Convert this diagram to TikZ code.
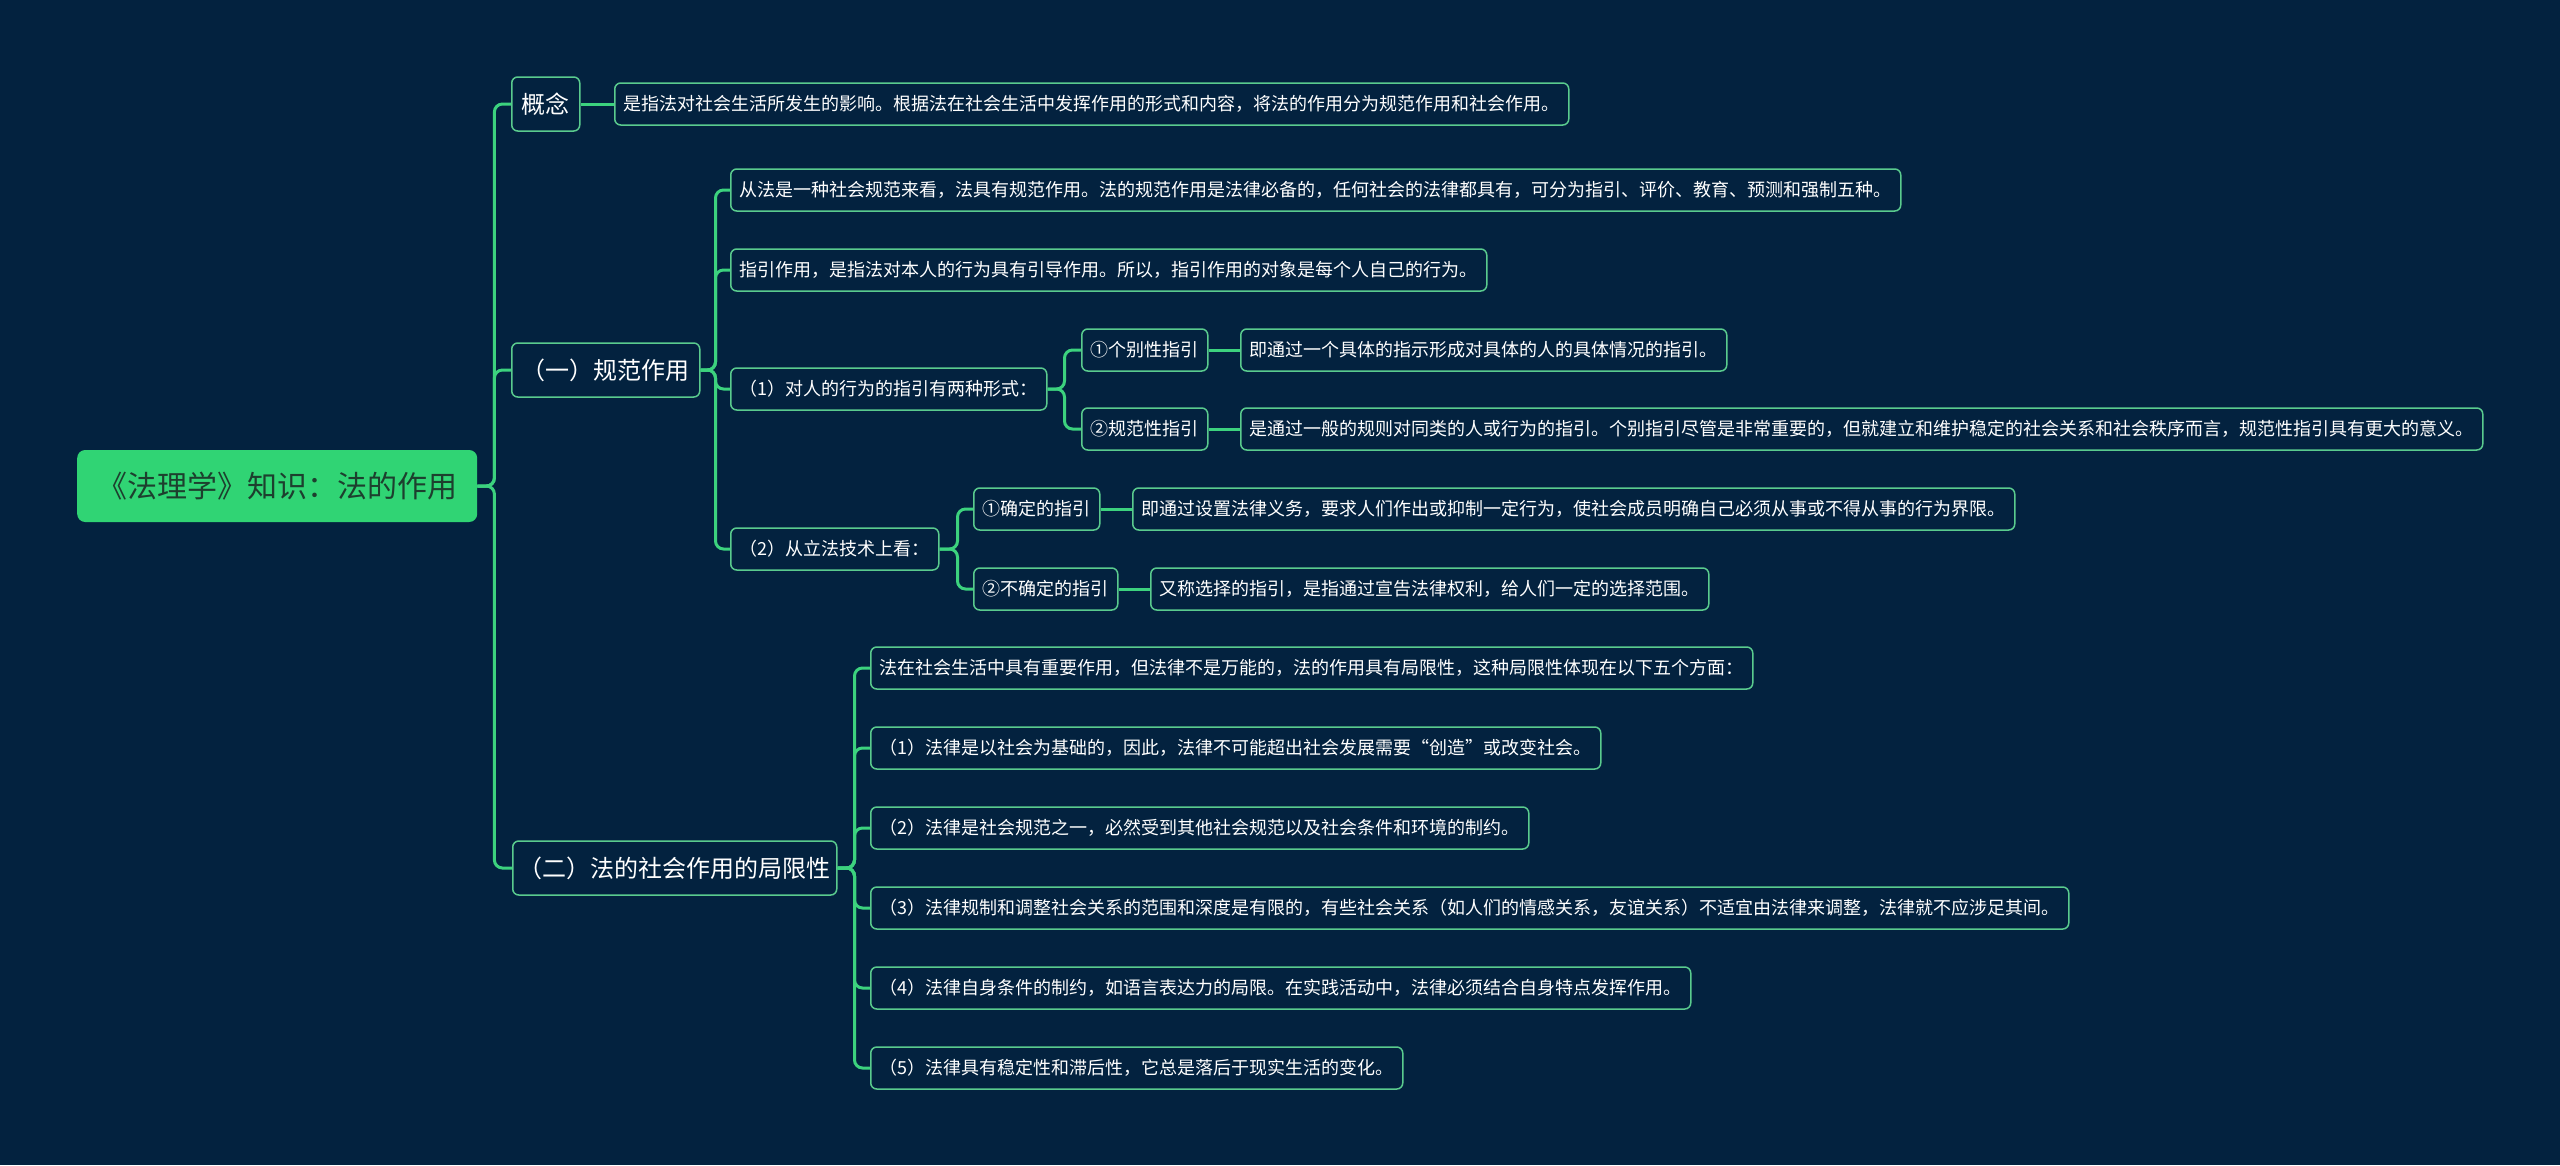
\documentclass[tikz,border=0pt]{standalone}
\usepackage{fontspec}
\newfontfamily\cjk{Noto Sans CJK SC}
\usetikzlibrary{positioning}
\definecolor{bgNavy}{HTML}{03223F}
\definecolor{lnGreen}{HTML}{3CD27E}
\definecolor{bdGreen}{HTML}{5ACB8E}
\definecolor{rootFill}{HTML}{30D474}
\definecolor{rootInk}{HTML}{1D3F2E}
\tikzset{
  link/.style={draw=lnGreen, line width=3pt, rounded corners=8pt},
  leafbox/.style={draw=bdGreen, line width=1.5pt, rounded corners=6pt, fill=bgNavy, text=white,
    anchor=west, minimum height=42pt, inner xsep=9pt, inner ysep=0pt, font=\cjk\fontsize{18}{20}\selectfont},
  topicbox/.style={leafbox, minimum height=54pt, inner xsep=10pt, font=\cjk\fontsize{24}{28}\selectfont},
  rootbox/.style={fill=rootFill, text=rootInk, rounded corners=8pt, anchor=west, minimum height=72pt,
    inner xsep=20pt, font=\cjk\fontsize{30}{34}\selectfont}
}
\begin{document}
\begin{tikzpicture}[x=1pt, y=-1pt]
  \fill[bgNavy] (0,0) rectangle (2560,1165);
  \useasboundingbox (0,0) rectangle (2560,1165);
  \node[rootbox] (root) at (77,486) {《法理学》知识：法的作用};
  % concept
  \node[topicbox] (concept) at (511,104) {概念};
  \node[leafbox] (conceptTxt) at (614,104) {是指法对社会生活所发生的影响。根据法在社会生活中发挥作用的形式和内容，将法的作用分为规范作用和社会作用。};
  % normative role
  \node[topicbox] (normRole) at (511,370) {（一）规范作用};
  \node[leafbox] (norm1) at (730,190) {从法是一种社会规范来看，法具有规范作用。法的规范作用是法律必备的，任何社会的法律都具有，可分为指引、评价、教育、预测和强制五种。};
  \node[leafbox] (norm2) at (730,270) {指引作用，是指法对本人的行为具有引导作用。所以，指引作用的对象是每个人自己的行为。};
  \node[leafbox] (norm3) at (730,389) {（1）对人的行为的指引有两种形式：};
  \node[leafbox] (norm4) at (730,549) {（2）从立法技术上看：};
  \node[leafbox] (indiv) at (1081,350) {①个别性指引};
  \node[leafbox] (indivTxt) at (1240,350) {即通过一个具体的指示形成对具体的人的具体情况的指引。};
  \node[leafbox] (gen) at (1081,429) {②规范性指引};
  \node[leafbox] (genTxt) at (1240,429) {是通过一般的规则对同类的人或行为的指引。个别指引尽管是非常重要的，但就建立和维护稳定的社会关系和社会秩序而言，规范性指引具有更大的意义。};
  \node[leafbox] (sure) at (973,509) {①确定的指引};
  \node[leafbox] (sureTxt) at (1132,509) {即通过设置法律义务，要求人们作出或抑制一定行为，使社会成员明确自己必须从事或不得从事的行为界限。};
  \node[leafbox] (unsure) at (973,589) {②不确定的指引};
  \node[leafbox] (unsureTxt) at (1150,589) {又称选择的指引，是指通过宣告法律权利，给人们一定的选择范围。};
  % limits of the social role
  \node[topicbox, inner xsep=6pt] (limits) at (512,868) {（二）法的社会作用的局限性};
  \foreach \i/\t in {0/{法在社会生活中具有重要作用，但法律不是万能的，法的作用具有局限性，这种局限性体现在以下五个方面：},
      1/{（1）法律是以社会为基础的，因此，法律不可能超出社会发展需要“创造”或改变社会。},
      2/{（2）法律是社会规范之一，必然受到其他社会规范以及社会条件和环境的制约。},
      3/{（3）法律规制和调整社会关系的范围和深度是有限的，有些社会关系（如人们的情感关系，友谊关系）不适宜由法律来调整，法律就不应涉足其间。},
      4/{（4）法律自身条件的制约，如语言表达力的局限。在实践活动中，法律必须结合自身特点发挥作用。},
      5/{（5）法律具有稳定性和滞后性，它总是落后于现实生活的变化。}} {
    \node[leafbox] (lim\i) at (870,668+80*\i) {\t};
    \draw[link] (limits.east) -- ++(17,0) |- (lim\i.west);
  }
  % connectors
  \foreach \c in {concept, normRole, limits} \draw[link] (root.east) -- ++(17,0) |- (\c.west);
  \draw[link] (concept.east) -- (conceptTxt.west);
  \foreach \c in {norm1, norm2, norm3, norm4} \draw[link] (normRole.east) -- ++(15,0) |- (\c.west);
  \foreach \c in {indiv, gen} \draw[link] (norm3.east) -- ++(17,0) |- (\c.west);
  \foreach \c in {sure, unsure} \draw[link] (norm4.east) -- ++(18,0) |- (\c.west);
  \draw[link] (indiv.east) -- (indivTxt.west);
  \draw[link] (gen.east) -- (genTxt.west);
  \draw[link] (sure.east) -- (sureTxt.west);
  \draw[link] (unsure.east) -- (unsureTxt.west);
\end{tikzpicture}
\end{document}
